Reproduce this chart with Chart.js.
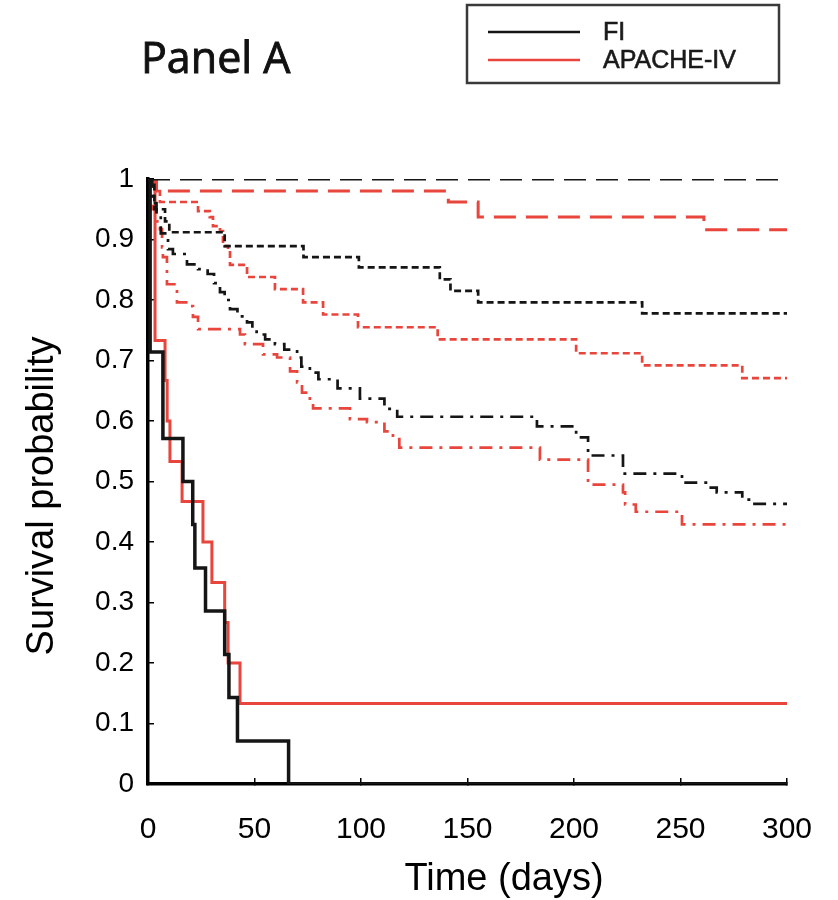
<!DOCTYPE html>
<html><head><meta charset="utf-8">
<script src="https://cdn.jsdelivr.net/npm/chart.js@4.4.1/dist/chart.umd.min.js"></script>
<style>html,body{margin:0;padding:0;background:#fff}canvas{display:block}</style>
</head><body>
<canvas id="c" width="838" height="900"></canvas>
<script>
// ---------- text ----------
const panelTitle = 'Panel A';
const xTitle = 'Time (days)';
const yTitle = 'Survival probability';
const legendLabels = ['FI', 'APACHE-IV'];

// ---------- ticks ----------
const xTickValues = [0, 50, 100, 150, 200, 250, 300];
const xTickLabels = ['0', '50', '100', '150', '200', '250', '300'];
const yTickValues = [0, 0.1, 0.2, 0.3, 0.4, 0.5, 0.6, 0.7, 0.8, 0.9, 1];
const yTickLabels = ['0', '0.1', '0.2', '0.3', '0.4', '0.5', '0.6', '0.7', '0.8', '0.9', '1'];

// ---------- series (day of step, survival after step) ----------
// FI (black)
const fiDashedDays = [0, 300];
const fiDashedSurv = [1, 1];

const fiDottedDays = [0, 3, 8, 10, 36, 73, 99, 137, 142, 155, 232, 300];
const fiDottedSurv = [1, 0.95, 0.93, 0.912, 0.889, 0.871, 0.854, 0.834, 0.815, 0.796, 0.778, 0.778];

const fiDashDotDays = [0, 2, 4, 6, 9.4, 11.7, 18.3, 23.5, 28, 31, 33.8, 36, 38.5, 42, 46.5, 49, 51, 55, 59.6, 64, 70, 72, 76, 80, 89, 99.5, 111, 117, 182.6, 201, 206.6, 223, 250.7, 263, 267, 279, 284, 300];
const fiDashDotSurv = [1, 0.96, 0.94, 0.91, 0.884, 0.876, 0.859, 0.851, 0.843, 0.828, 0.813, 0.8, 0.785, 0.773, 0.763, 0.753, 0.743, 0.735, 0.727, 0.718, 0.705, 0.69, 0.68, 0.669, 0.654, 0.637, 0.62, 0.607, 0.591, 0.573, 0.543, 0.513, 0.498, 0.49, 0.482, 0.47, 0.463, 0.463];

const fiSolidDays = [0, 1, 7, 16.4, 21, 22, 27, 36, 38, 42, 66, 300];
const fiSolidSurv = [1, 0.714, 0.571, 0.5, 0.429, 0.357, 0.286, 0.214, 0.143, 0.071, 0, 0];

// APACHE-IV (red)
const apDashedDays = [0, 4, 141, 155, 261, 300];
const apDashedSurv = [1, 0.98, 0.962, 0.937, 0.916, 0.916];

const apDottedDays = [0, 3, 5.6, 23.5, 29, 30.5, 33.8, 35.2, 37.6, 38.5, 46.5, 59.6, 72.8, 82.2, 98.6, 136, 201, 232, 279, 300];
const apDottedSurv = [1, 0.98, 0.962, 0.947, 0.937, 0.922, 0.914, 0.889, 0.881, 0.858, 0.838, 0.818, 0.796, 0.776, 0.755, 0.735, 0.712, 0.692, 0.671, 0.671];

const apDashDotDays = [0, 2, 4, 5.6, 6.6, 7, 8.9, 13.6, 19.7, 21.1, 23.5, 43.2, 45.5, 54, 60.6, 66.7, 70, 72.3, 76, 77.5, 94.8, 102.8, 111, 115, 118, 184, 206.6, 223, 224, 229, 250.7, 300];
const apDashDotSurv = [1, 0.95, 0.93, 0.917, 0.887, 0.871, 0.826, 0.796, 0.79, 0.772, 0.752, 0.743, 0.727, 0.71, 0.705, 0.682, 0.664, 0.647, 0.632, 0.621, 0.603, 0.598, 0.583, 0.57, 0.556, 0.536, 0.495, 0.482, 0.462, 0.45, 0.429, 0.429];

const apSolidDays = [0, 3.3, 8, 9, 10.3, 16, 25.8, 30, 36, 37.6, 43.2, 300];
const apSolidSurv = [1, 0.733, 0.667, 0.6, 0.533, 0.467, 0.4, 0.333, 0.267, 0.2, 0.133, 0.133];

// ---------- styling ----------
const BLACK = '#151515';
const RED = '#e8453c';

function pts(days, surv) { return days.map((d, i) => ({ x: d, y: surv[i] })); }
function ds(label, days, surv, color, width, dash) {
  return {
    label, data: pts(days, surv), borderColor: color, backgroundColor: color,
    borderWidth: width, borderDash: dash, stepped: 'before', pointRadius: 0,
    pointHoverRadius: 0, fill: false, tension: 0, borderCapStyle: 'butt'
  };
}

const LONG = [22, 10];
const SHORT = [7, 4];
const DASHDOT = [13, 7, 3, 7];

const datasets = [
  ds('FI', fiSolidDays, fiSolidSurv, BLACK, 3.5, []),
  ds('FI', fiDashedDays, fiDashedSurv, BLACK, 3, LONG),
  ds('FI', fiDottedDays, fiDottedSurv, BLACK, 2.7, SHORT),
  ds('FI', fiDashDotDays, fiDashDotSurv, BLACK, 2.7, DASHDOT),
  ds('APACHE-IV', apSolidDays, apSolidSurv, RED, 3, []),
  ds('APACHE-IV', apDashedDays, apDashedSurv, RED, 3, LONG),
  ds('APACHE-IV', apDottedDays, apDottedSurv, RED, 2.7, SHORT),
  ds('APACHE-IV', apDashDotDays, apDashDotSurv, RED, 2.7, DASHDOT)
];

const annotations = {
  id: 'annotations',
  afterDraw(chart) {
    const ctx = chart.ctx;
    ctx.save();
    ctx.fillStyle = '#111';
    ctx.strokeStyle = '#111';
    ctx.lineWidth = 0.9;
    ctx.font = '43px "Open Sans", "Noto Sans", sans-serif';
    ctx.textAlign = 'left';
    ctx.textBaseline = 'alphabetic';
    ctx.fillText(panelTitle, 141, 73);
    ctx.strokeText(panelTitle, 141, 73);

    ctx.fillStyle = '#000';
    ctx.font = '38px "Liberation Sans", Arial, sans-serif';
    ctx.textAlign = 'center';
    ctx.textBaseline = 'middle';
    ctx.fillText(xTitle, 504, 880);
    ctx.save();
    ctx.translate(43, 496);
    ctx.rotate(-Math.PI / 2);
    ctx.fillText(yTitle, 0, 0);
    ctx.restore();

    // legend box
    ctx.strokeStyle = '#3a3a3a';
    ctx.lineWidth = 2.5;
    ctx.strokeRect(467, 5, 312, 78);
    const rows = [[legendLabels[0], BLACK, 32], [legendLabels[1], RED, 60]];
    rows.forEach(([t, c, y]) => {
      ctx.beginPath();
      ctx.strokeStyle = c;
      ctx.lineWidth = 2.5;
      ctx.moveTo(488, y);
      ctx.lineTo(580, y);
      ctx.stroke();
      ctx.fillStyle = '#1a1a1a';
      ctx.strokeStyle = '#1a1a1a';
      ctx.lineWidth = 0.6;
      ctx.font = '25px "Liberation Sans", Arial, sans-serif';
      ctx.textAlign = 'left';
      ctx.textBaseline = 'middle';
      ctx.fillText(t, 603, y + 1);
      ctx.strokeText(t, 603, y + 1);
    });
    ctx.restore();
  }
};

new Chart(document.getElementById('c'), {
  type: 'line',
  data: { datasets },
  plugins: [annotations],
  options: {
    responsive: false,
    animation: false,
    devicePixelRatio: 1,
    layout: { padding: { top: 179, right: 51, bottom: 0, left: 0 } },
    plugins: { legend: { display: false }, tooltip: { enabled: false }, title: { display: false } },
    scales: {
      x: {
        type: 'linear', min: 0, max: 300,
        afterFit(s) { s.height = 116; s.paddingLeft = 0; s.paddingRight = 0; },
        afterBuildTicks(s) { s.ticks = xTickValues.map(v => ({ value: v })); },
        ticks: {
          callback: (v, i) => xTickLabels[i], color: '#000', padding: 34, maxRotation: 0, autoSkip: false,
          font: { family: '"Liberation Sans", Arial, sans-serif', size: 30 }
        },
        grid: { display: true, drawOnChartArea: false, drawTicks: true, tickLength: -6, color: '#000', lineWidth: 1.5 },
        border: { display: true, color: '#000', width: 3.5 }
      },
      y: {
        type: 'linear', min: 0, max: 1,
        afterFit(s) { s.width = 148; s.paddingTop = 0; s.paddingBottom = 0; },
        afterBuildTicks(s) { s.ticks = yTickValues.map(v => ({ value: v })); },
        ticks: {
          callback: (v, i) => yTickLabels[i], color: '#000', padding: 20, autoSkip: false,
          font: { family: '"Liberation Sans", Arial, sans-serif', size: 28 }
        },
        grid: { display: true, drawOnChartArea: false, drawTicks: true, tickLength: -6, color: '#000', lineWidth: 1.5 },
        border: { display: true, color: '#000', width: 3.5 }
      }
    }
  }
});
</script>
</body></html>
